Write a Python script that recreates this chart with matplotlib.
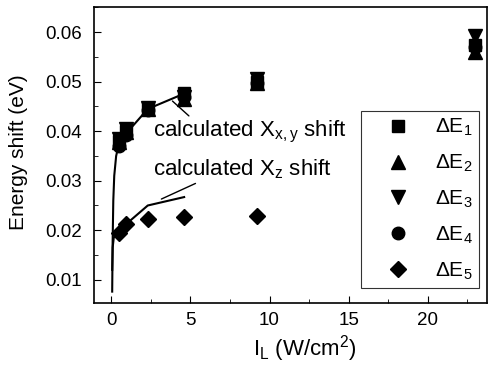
import matplotlib
matplotlib.use("Agg")
import matplotlib.pyplot as plt
from matplotlib.ticker import MultipleLocator

plt.rcParams['font.family'] = ['Liberation Sans', 'DejaVu Sans']
plt.rcParams['mathtext.fontset'] = 'custom'
plt.rcParams['mathtext.rm'] = 'Liberation Sans'
plt.rcParams['mathtext.it'] = 'Liberation Sans'

# data
x_int = [0.46, 0.92, 2.3, 4.6, 9.2, 23.0]
dE1 = [0.0380, 0.0400, 0.0447, 0.0478, 0.0500, 0.0575]
dE2 = [0.0378, 0.0398, 0.0445, 0.0466, 0.0497, 0.0560]
dE3 = [0.0385, 0.0405, 0.0446, 0.0470, 0.0505, 0.0592]
dE4 = [0.0370, 0.0393, 0.0443, 0.0470, 0.0498, 0.0570]
x5 = [0.46, 0.92, 2.3, 4.6, 9.2]
dE5 = [0.0195, 0.0213, 0.0222, 0.0227, 0.0229]

calc_xy_x = [0.05, 0.08, 0.12, 0.18, 0.3, 0.46, 0.92, 2.3, 4.6]
calc_xy_y = [0.0076, 0.0180, 0.0260, 0.0310, 0.0350, 0.0372, 0.0395, 0.0445, 0.0476]
calc_z_x = [0.05, 0.08, 0.15, 0.3, 0.46, 0.92, 2.3, 4.6]
calc_z_y = [0.0120, 0.0165, 0.0185, 0.0192, 0.0196, 0.0212, 0.0250, 0.0267]

fig = plt.figure(figsize=(4.88, 3.68), dpi=100)
ax = fig.add_axes([94/488, 1 - 303/368, (487 - 94)/488, (303 - 7)/368])

ax.plot(calc_xy_x, calc_xy_y, color='black', lw=1.5)
ax.plot(calc_z_x, calc_z_y, color='black', lw=1.5)

ms = 10
ax.plot(x_int, dE1, 's', color='black', ms=ms*0.85, label=r'$\Delta$E$_\mathregular{1}$', ls='none')
ax.plot(x_int, dE2, '^', color='black', ms=ms, label=r'$\Delta$E$_\mathregular{2}$', ls='none')
ax.plot(x_int, dE3, 'v', color='black', ms=ms, label=r'$\Delta$E$_\mathregular{3}$', ls='none')
ax.plot(x_int, dE4, 'o', color='black', ms=ms*0.9, label=r'$\Delta$E$_\mathregular{4}$', ls='none')
ax.plot(x5, dE5, 'D', color='black', ms=ms*0.8, label=r'$\Delta$E$_\mathregular{5}$', ls='none')

ax.annotate(r'calculated X$_\mathregular{x,y}$ shift', xy=(3.86, 0.0461), xytext=(2.65, 0.0399),
            fontsize=16, va='center', ha='left',
            arrowprops=dict(arrowstyle='-', color='black', lw=1,
                            shrinkA=0, shrinkB=0, relpos=(0.20, 1.0)))
ax.annotate(r'calculated X$_\mathregular{z}$ shift', xy=(3.16, 0.0263), xytext=(2.65, 0.0324),
            fontsize=16, va='center', ha='left',
            arrowprops=dict(arrowstyle='-', color='black', lw=1,
                            shrinkA=0, shrinkB=0, relpos=(0.27, 0.0)))

ax.set_xlim(-1.1, 23.75)
ax.set_ylim(0.0053, 0.0651)
ax.xaxis.set_major_locator(MultipleLocator(5))
ax.xaxis.set_minor_locator(MultipleLocator(2.5))
ax.yaxis.set_major_locator(MultipleLocator(0.01))
ax.yaxis.set_minor_locator(MultipleLocator(0.005))
ax.tick_params(which='both', direction='in', top=False, right=False, labelsize=13.5)
ax.tick_params(which='major', length=5)
ax.tick_params(which='minor', length=3)
ax.tick_params(axis='y', which='major', pad=9)
ax.tick_params(axis='x', which='major', pad=6.5)
for s in ax.spines.values():
    s.set_linewidth(1.2)

ax.set_xlabel(r'I$_\mathregular{L}$ (W/cm$^\mathregular{2}$)', fontsize=16)
ax.xaxis.set_label_coords(0.536, -0.10, transform=ax.transAxes)
ax.xaxis.label.set_va('top')
ax.set_ylabel('Energy shift (eV)', fontsize=15)
ax.yaxis.set_label_coords(-0.168, 0.508, transform=ax.transAxes)

leg = ax.legend(loc='lower right', bbox_to_anchor=(0.9796, 0.0507), borderaxespad=0,
                fontsize=15, frameon=True, fancybox=False, edgecolor='black',
                labelspacing=0.7, handletextpad=0.3, borderpad=0.3, handlelength=2.96)
leg.get_frame().set_linewidth(0.8)

fig.savefig('out.png', dpi=100)
